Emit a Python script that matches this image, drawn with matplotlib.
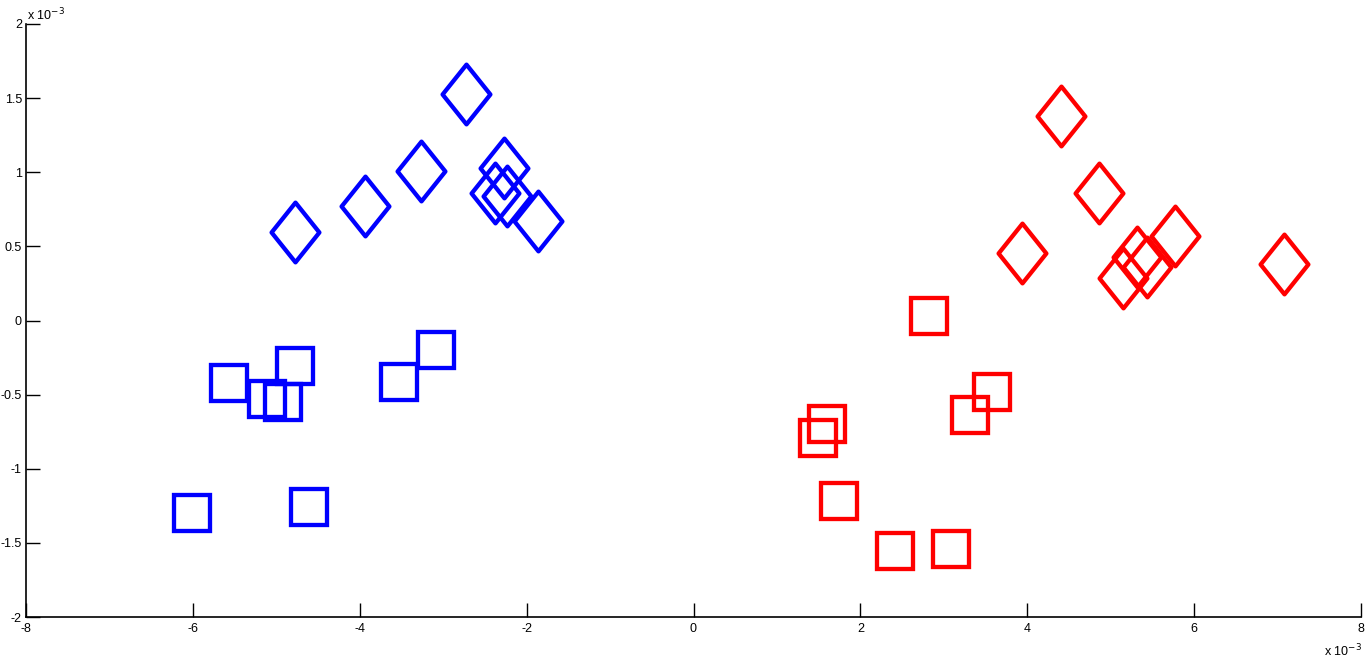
import numpy as np
import matplotlib
matplotlib.use("Agg")
import matplotlib.pyplot as plt
from matplotlib.path import Path
from matplotlib.markers import MarkerStyle
from matplotlib.ticker import FuncFormatter, MultipleLocator

# Data (units of 1e-3)
blue_diamond_x = [-4.78, -3.94, -3.27, -2.73, -2.275, -2.38, -2.24, -1.86]
blue_diamond_y = [0.60, 0.774, 1.01, 1.53, 1.03, 0.86, 0.84, 0.673]
blue_square_x = [-5.567, -4.776, -5.11, -4.92, -3.53, -3.09, -6.01, -4.61]
blue_square_y = [-0.424, -0.305, -0.53, -0.552, -0.413, -0.199, -1.30, -1.256]
red_diamond_x = [4.40, 4.86, 3.94, 5.77, 7.08, 5.31, 5.43, 5.15]
red_diamond_y = [1.381, 0.862, 0.457, 0.572, 0.379, 0.427, 0.363, 0.285]
red_square_x = [2.82, 3.58, 3.31, 1.60, 1.49, 1.74, 2.41, 3.09]
red_square_y = [0.032, -0.48, -0.637, -0.70, -0.79, -1.215, -1.553, -1.543]
scale = 1e-3

plt.rcParams['font.family'] = ['Liberation Sans', 'DejaVu Sans']

fig = plt.figure(figsize=(13.67, 6.58), dpi=100)
ax = fig.add_axes([26/1367, 41/658, 1335/1367, 593/658])

w = 0.8
diamond_path = Path([(0, 1), (w, 0), (0, -1), (-w, 0), (0, 1)],
                    [Path.MOVETO, Path.LINETO, Path.LINETO, Path.LINETO, Path.CLOSEPOLY])
dmark = MarkerStyle(diamond_path, joinstyle='miter')
smark = MarkerStyle('s', joinstyle='miter')

blue = '#0000ff'
red = '#ff0000'
mew = 3.1
sq_ms = 26.5
dm_ms = 43

ax.plot(np.array(blue_square_x)*scale, np.array(blue_square_y)*scale, ls='none',
        marker=smark, ms=sq_ms, mfc='none', mec=blue, mew=mew)
ax.plot(np.array(blue_diamond_x)*scale, np.array(blue_diamond_y)*scale, ls='none',
        marker=dmark, ms=dm_ms, mfc='none', mec=blue, mew=mew)
ax.plot(np.array(red_square_x)*scale, np.array(red_square_y)*scale, ls='none',
        marker=smark, ms=sq_ms, mfc='none', mec=red, mew=mew)
ax.plot(np.array(red_diamond_x)*scale, np.array(red_diamond_y)*scale, ls='none',
        marker=dmark, ms=dm_ms, mfc='none', mec=red, mew=mew)

ax.set_xlim(-8e-3, 8e-3)
ax.set_ylim(-2e-3, 2e-3)
ax.xaxis.set_major_locator(MultipleLocator(2e-3))
ax.yaxis.set_major_locator(MultipleLocator(0.5e-3))
fmt = FuncFormatter(lambda v, p: "0" if abs(v) < 1e-9 else f"{v*1e3:g}")
ax.xaxis.set_major_formatter(fmt)
ax.yaxis.set_major_formatter(fmt)

for s in ['top', 'right']:
    ax.spines[s].set_visible(False)
for s in ['left', 'bottom']:
    ax.spines[s].set_linewidth(1.2)
    ax.spines[s].set_color('black')
ax.tick_params(direction='in', length=10, width=1.0, labelsize=9, pad=4, colors='black')
ax.tick_params(axis='y', pad=3)

fig.text(27/1367, 1 - 20/658, r'x 10$^{-3}$', fontsize=9, ha='left', va='baseline')
fig.text(1362/1367, 1 - 656/658, r'x 10$^{-3}$', fontsize=9, ha='right', va='baseline')

fig.savefig('out.png', dpi=100)
